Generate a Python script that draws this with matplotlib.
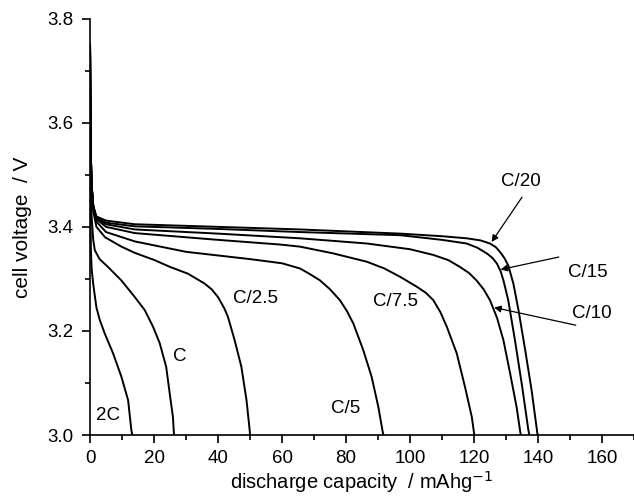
import matplotlib.pyplot as plt
from matplotlib.ticker import MultipleLocator

plt.rcParams['font.family'] = ['Liberation Sans', 'DejaVu Sans']

# discharge curves: capacity (mAh/g) vs cell voltage (V)
cap_2c = [0, 0.1, 0.25, 0.5, 1, 2, 3, 4.6, 7.2, 9.8, 11.9, 12.9, 13.2]
v_2c = [3.75, 3.5, 3.36, 3.32, 3.29, 3.245, 3.222, 3.195, 3.157, 3.112, 3.067, 3.01, 3.0]

cap_1c = [0, 0.2, 0.5, 1, 1.5, 3, 5.6, 9.8, 14, 17.1, 19.7, 21.8, 23.8, 24.9, 25.9, 26.25]
v_1c = [3.75, 3.5, 3.42, 3.375, 3.355, 3.338, 3.323, 3.297, 3.265, 3.24, 3.208, 3.176, 3.131, 3.08, 3.035, 3.0]

cap_c25 = [0, 0.2, 0.5, 1, 2, 4.7, 9.8, 14, 20.2, 25, 30.6, 35.8, 38, 40, 42, 43.1, 45.2, 47.3, 48.9, 49.9, 50.0]
v_c25 = [3.75, 3.55, 3.47, 3.43, 3.40, 3.38, 3.362, 3.35, 3.336, 3.323, 3.31, 3.291, 3.28, 3.265, 3.243, 3.227,
         3.182, 3.131, 3.067, 3.009, 3.0]

cap_c5 = [0, 0.2, 0.5, 1, 2, 5, 14, 30, 50, 60, 65.6, 68.5, 71.9, 75, 78.1, 80.3, 82.3, 85.4, 88, 90.1, 91.5, 91.7]
v_c5 = [3.75, 3.55, 3.48, 3.44, 3.41, 3.39, 3.372, 3.352, 3.338, 3.33, 3.32, 3.31, 3.297, 3.28, 3.259, 3.238,
        3.214, 3.163, 3.112, 3.054, 3.005, 3.0]

cap_c75 = [0, 0.2, 0.5, 1, 2, 5, 14, 40, 59.4, 65.6, 76, 86.5, 92, 96.9, 102.1, 105, 107.3, 109.5, 111.5, 114.6,
           117.2, 119.3, 120.1]
v_c75 = [3.75, 3.55, 3.48, 3.44, 3.415, 3.40, 3.388, 3.375, 3.366, 3.362, 3.349, 3.333, 3.32, 3.304, 3.285, 3.273,
         3.259, 3.236, 3.208, 3.157, 3.092, 3.035, 3.0]

cap_c10 = [0, 0.2, 0.5, 1, 2, 5, 14, 40, 65.6, 86.5, 100, 107.3, 112, 115.6, 118.5, 120.8, 123, 125, 127.2, 129.2,
           131.3, 133.3, 134.6]
v_c10 = [3.75, 3.55, 3.48, 3.44, 3.415, 3.405, 3.395, 3.387, 3.378, 3.368, 3.357, 3.346, 3.336, 3.323, 3.311,
         3.297, 3.28, 3.259, 3.225, 3.182, 3.118, 3.054, 3.0]

cap_c15 = [0, 0.2, 0.5, 1, 2, 5, 14, 40, 65.6, 96.9, 110, 117.7, 121, 124, 125.8, 127.1, 128.3, 129.2, 130.7,
           132.8, 134.9, 137, 137.3]
v_c15 = [3.75, 3.55, 3.48, 3.44, 3.418, 3.408, 3.401, 3.396, 3.39, 3.384, 3.375, 3.368, 3.36, 3.349, 3.34, 3.33,
         3.315, 3.297, 3.259, 3.182, 3.099, 3.009, 3.0]

cap_c20 = [0, 0.2, 0.5, 1, 2, 5, 14, 40, 65.6, 96.9, 110, 117.7, 122, 125, 126.8, 128.1, 129.5, 130.7, 132.3,
           133.9, 136, 138, 139.8, 140.0]
v_c20 = [3.75, 3.55, 3.48, 3.44, 3.42, 3.412, 3.405, 3.40, 3.395, 3.387, 3.382, 3.378, 3.374, 3.368, 3.361, 3.352,
         3.34, 3.326, 3.291, 3.24, 3.163, 3.086, 3.003, 3.0]

curves = [(cap_2c, v_2c), (cap_1c, v_1c), (cap_c25, v_c25), (cap_c5, v_c5),
          (cap_c75, v_c75), (cap_c10, v_c10), (cap_c15, v_c15), (cap_c20, v_c20)]

# plain text labels: (text, x, y)
labels = [('2C', 5.5, 3.037), ('C', 28.1, 3.151), ('C/2.5', 51.6, 3.262),
          ('C/5', 79.9, 3.051), ('C/7.5', 95.5, 3.256)]

# arrow labels: (text, text x, text y, arrow tail x, tail y, head x, head y)
arrow_labels = [('C/20', 134.6, 3.488, 135.0, 3.457, 125.5, 3.371),
                ('C/15', 155.6, 3.313, 146.5, 3.342, 128.3, 3.318),
                ('C/10', 156.9, 3.234, 151.8, 3.211, 126.3, 3.245)]

fig = plt.figure(figsize=(6.34, 5.0), dpi=100)
ax = fig.add_axes([0.142, 0.13, 0.858, 0.8326])

for x, y in curves:
    ax.plot(x, y, color='black', lw=1.4, solid_joinstyle='round')

for text, x, y in labels:
    ax.text(x, y, text, fontsize=13.5, ha='center', va='center')

for text, tx, ty, x0, y0, x1, y1 in arrow_labels:
    ax.text(tx, ty, text, fontsize=13.5, ha='center', va='center')
    ax.annotate('', xy=(x1, y1), xytext=(x0, y0),
                arrowprops=dict(arrowstyle='-|>', color='black', lw=0.9,
                                mutation_scale=10, shrinkA=0, shrinkB=0))

ax.set_xlim(0, 170)
ax.set_ylim(3.0, 3.8)
ax.xaxis.set_major_locator(MultipleLocator(20))
ax.xaxis.set_minor_locator(MultipleLocator(10))
ax.yaxis.set_major_locator(MultipleLocator(0.2))
ax.yaxis.set_minor_locator(MultipleLocator(0.1))
ax.set_xticks(range(0, 161, 20))
ax.yaxis.set_major_formatter(plt.FormatStrFormatter('%.1f'))

ax.spines['top'].set_visible(False)
ax.spines['right'].set_visible(False)
ax.spines['left'].set_linewidth(1.2)
ax.spines['bottom'].set_linewidth(1.2)
ax.tick_params(which='major', direction='out', length=6, width=1.2, labelsize=13.5)
ax.tick_params(which='minor', direction='out', length=3.5, width=1.2)
ax.tick_params(axis='x', which='major', pad=5)
ax.tick_params(axis='y', which='major', pad=6)

ax.set_xlabel('discharge capacity  / mAhg$^{-1}$', fontsize=14.5, labelpad=1)
ax.set_ylabel('cell voltage  / V', fontsize=15, labelpad=11)

plt.savefig('out.png', dpi=100)
